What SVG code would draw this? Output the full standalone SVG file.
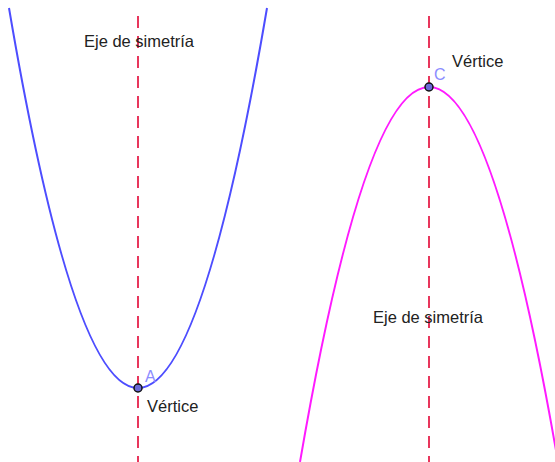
<svg xmlns="http://www.w3.org/2000/svg" width="555" height="462" viewBox="0 0 555 462">
<style>
.axis{stroke:#e8365c;stroke-width:2;stroke-dasharray:12 8;fill:none}
.lbl{font-family:"Liberation Sans",Arial,sans-serif;font-size:16.5px;fill:#222}
.pt{font-family:"Liberation Sans",Arial,sans-serif;font-size:16px;fill:#8c8cff}
.vtx{fill:#6a6ad8;stroke:#111;stroke-width:1.5}
</style>
<rect width="555" height="462" fill="#fff"/>
<g id="connectors">
<line class="axis" x1="138" y1="16" x2="138" y2="462"/>
<line class="axis" x1="429" y1="16" x2="429" y2="462"/>
</g>
<g id="parabola-up">
<path d="M9,8 Q138,768 267,8" fill="none" stroke="#4d4dff" stroke-width="2"/>
<circle class="vtx" cx="138" cy="388" r="4"/>
<text class="pt" x="145" y="382">A</text>
<text class="lbl" x="147" y="412">Vértice</text>
</g>
<g id="parabola-down">
<path d="M300,462 Q429,-288 558,462" fill="none" stroke="#ff1aff" stroke-width="2"/>
<circle class="vtx" cx="429" cy="87" r="4"/>
<text class="pt" x="434" y="80">C</text>
<text class="lbl" x="452" y="67">Vértice</text>
</g>
<g id="label-axis-1"><text class="lbl" x="84" y="47">Eje de simetría</text></g>
<g id="label-axis-2"><text class="lbl" x="373" y="323">Eje de simetría</text></g>
</svg>
